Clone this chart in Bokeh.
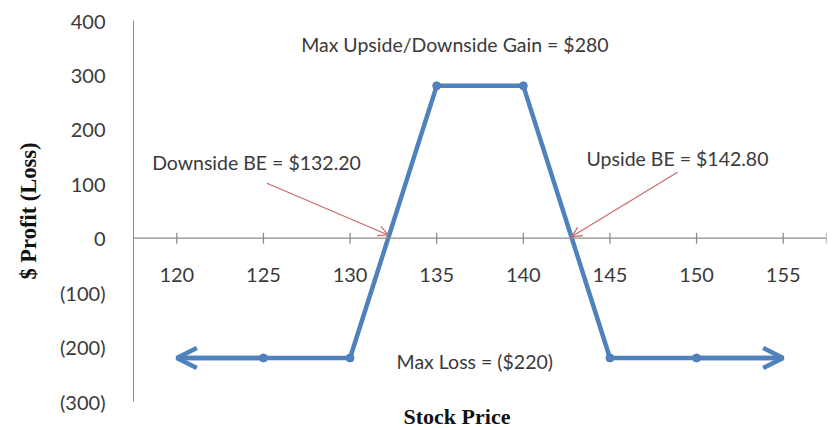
from bokeh.plotting import figure
from bokeh.models import (FixedTicker, Arrow, OpenHead, Label, Span, Title)
from bokeh.core.properties import value
from bokeh.embed import file_html
from bokeh.resources import INLINE
import math

# ---- data ----
stock_price = [120, 125, 130, 135, 140, 145, 150, 155]
profit_loss = [-220, -220, -220, 280, 280, -220, -220, -220]
x_tick_values = [120, 125, 130, 135, 140, 145, 150, 155]
x_tick_labels = ["120", "125", "130", "135", "140", "145", "150", "155"]
x_axis_end = 157.5
y_tick_values = [400, 300, 200, 100, 0, -100, -200, -300]
y_tick_labels = ["400", "300", "200", "100", "0", "(100)", "(200)", "(300)"]
downside_be = 132.20
upside_be = 142.80
max_gain = 280
max_loss = -220

BLUE = "#4F81BD"
GRAY = "#8C8C8C"
TXT = "#3a3a3a"
RED = "#C86A68"
FONT = "Lato"

p = figure(width=829, height=428, x_range=(117.5, 157.5), y_range=(-300, 400),
           output_backend="svg", toolbar_location=None, x_axis_location=None,
           min_border_left=133, min_border_right=3, min_border_top=20, min_border_bottom=26)
p.outline_line_color = None
p.grid.visible = False
p.background_fill_color = "white"
p.border_fill_color = "white"

# y axis
ya = p.yaxis[0]
ya.ticker = FixedTicker(ticks=y_tick_values)
ya.major_label_overrides = {v: l for v, l in zip(y_tick_values, y_tick_labels)}
ya.major_tick_in = 0
ya.major_tick_out = 0
ya.minor_tick_in = 0
ya.minor_tick_out = 0
ya.axis_line_color = GRAY
ya.major_label_standoff = 28
ya.major_label_text_font = FONT
ya.major_label_text_font_size = "20px"
ya.major_label_text_color = TXT
ya.axis_label = "$ Profit (Loss)"
ya.axis_label_text_font = "Liberation Serif"
ya.axis_label_text_font_style = "bold"
ya.axis_label_text_font_size = "22.5px"
ya.axis_label_text_color = "#111111"
ya.axis_label_standoff = 16

# x axis drawn at y = 0
p.add_layout(Span(location=0, dimension="width", line_color=GRAY, line_width=1.3))
p.scatter(x=x_tick_values + [x_axis_end], y=[0] * (len(x_tick_values) + 1), marker="dash",
          size=11, angle=math.pi / 2, line_color=GRAY, line_width=1.3)
p.text(x=x_tick_values, y=[0] * len(x_tick_values), text=x_tick_labels, y_offset=37,
       text_align="center", text_baseline="middle", text_font=value(FONT),
       text_font_size="20px", text_color=TXT)

# payoff line
p.line(stock_price, profit_loss, line_color=BLUE, line_width=4.5)
p.scatter(stock_price[1:-1], profit_loss[1:-1], size=8, color=BLUE)
p.add_layout(Arrow(x_start=stock_price[1], y_start=profit_loss[1],
                   x_end=stock_price[0], y_end=profit_loss[0], line_color=BLUE, line_width=4.5,
                   end=OpenHead(size=20, line_color=BLUE, line_width=4.5)))
p.add_layout(Arrow(x_start=stock_price[-2], y_start=profit_loss[-2],
                   x_end=stock_price[-1], y_end=profit_loss[-1], line_color=BLUE, line_width=4.5,
                   end=OpenHead(size=20, line_color=BLUE, line_width=4.5)))

# break-even arrows
p.add_layout(Arrow(x_start=125.2, y_start=101, x_end=downside_be, y_end=6,
                   line_color=RED, line_width=1.2,
                   end=OpenHead(size=10, line_color=RED, line_width=1.2)))
p.add_layout(Arrow(x_start=148.9, y_start=121, x_end=upside_be, y_end=3,
                   line_color=RED, line_width=1.2,
                   end=OpenHead(size=10, line_color=RED, line_width=1.2)))

def lab(x, y, t):
    p.add_layout(Label(x=x, y=y, text=t, text_align="center", text_baseline="middle",
                       text_font=FONT, text_font_size="19.5px", text_color=TXT))

lab(136.05, 356, "Max Upside/Downside Gain = $%d" % max_gain)
lab(124.6, 139, "Downside BE = $%.2f" % downside_be)
lab(148.9, 147, "Upside BE = $%.2f" % upside_be)
lab(137.2, -227, "Max Loss = ($%d)" % -max_loss)

p.add_layout(Title(text="Stock Price", align="left", offset=270, standoff=0,
                   text_font="Liberation Serif", text_font_style="bold",
                   text_font_size="22px", text_color="#111111"), "below")

open("out.html", "w").write(file_html(p, INLINE))
